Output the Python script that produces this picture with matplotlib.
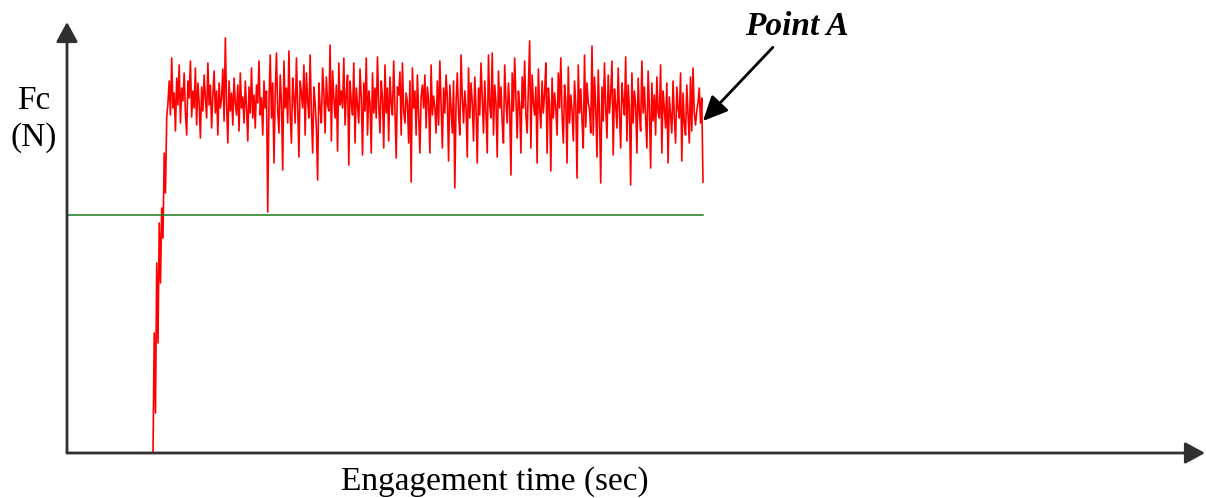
import numpy as np
import matplotlib
matplotlib.use("Agg")
import matplotlib.pyplot as plt

plt.rcParams['font.family'] = ['Liberation Serif', 'DejaVu Serif']

# cutting force trace (N), sampled uniformly from t_start to t_end
t_start = 0.86
t_end = 6.36
fc = [
    # run-up
    0, 120, 40, 190, 110, 230, 170, 245, 215, 300, 260, 336,
    # steady cutting
    350, 372, 338, 395, 345, 360, 322, 375, 348, 388,
    330, 365, 352, 380, 340, 318, 372, 355, 392, 336,
    362, 345, 385, 328, 370, 350, 315, 366, 342, 378,
    355, 335, 390, 348, 368, 325, 358, 382, 340, 362,
    318, 370, 345, 355, 384, 332, 415, 348, 310, 372,
    342, 360, 328, 375, 350, 338, 368, 322, 380, 345,
    356, 330, 372, 345, 312, 366, 340, 385, 335, 358,
    325, 368, 350, 392, 338, 355, 318, 372, 345, 362,
    241, 352, 398, 335, 370, 290, 360, 400, 342, 320,
    378, 350, 283, 392, 345, 365, 330, 402, 338, 310,
    375, 355, 330, 395, 348, 296, 372, 360, 345, 388,
    318, 380, 352, 335, 398, 340, 300, 366, 350, 325,
    273, 370, 345, 330, 385, 360, 320, 376, 348, 342,
    408, 312, 382, 355, 335, 368, 302, 390, 348, 362,
    345, 395, 328, 360, 378, 288, 372, 350, 338, 390,
    310, 365, 348, 330, 384, 355, 298, 370, 342, 395,
    318, 362, 350, 300, 380, 340, 365, 335, 396, 348,
    320, 372, 355, 305, 388, 340, 365, 312, 376, 350,
    338, 392, 345, 295, 366, 358, 381, 318, 390, 342,
    330, 360, 350, 310, 372, 271, 385, 345, 362, 318,
    378, 340, 300, 356, 368, 345, 378, 325, 366, 352,
    300, 388, 338, 357, 345, 320, 372, 328, 392, 350,
    305, 365, 340, 378, 355, 292, 368, 345, 320, 372,
    265, 350, 380, 340, 318, 398, 355, 330, 362, 345,
    296, 385, 335, 370, 350, 312, 376, 345, 290, 365,
    338, 390, 355, 320, 372, 340, 300, 398, 348, 335,
    400, 318, 368, 350, 296, 382, 345, 366, 330, 310,
    388, 352, 330, 370, 345, 278, 380, 342, 395, 355,
    315, 362, 348, 300, 376, 345, 392, 338, 320, 365,
    412, 305, 378, 350, 338, 366, 290, 384, 345, 325,
    372, 340, 360, 390, 300, 365, 348, 282, 375, 335,
    360, 345, 318, 380, 345, 395, 338, 310, 368, 352,
    290, 386, 330, 358, 342, 312, 372, 348, 275, 388,
    340, 364, 332, 305, 398, 326, 370, 350, 344, 320,
    407, 318, 376, 345, 296, 383, 338, 270, 366, 332,
    390, 345, 315, 378, 340, 360, 392, 298, 364, 348,
    325, 385, 340, 305, 370, 352, 338, 396, 312, 368,
    345, 268, 380, 330, 362, 348, 300, 375, 340, 322,
    392, 340, 366, 335, 305, 382, 345, 285, 370, 332,
    358, 318, 376, 340, 335, 388, 300, 362, 345, 325,
    370, 290, 356, 338, 320, 372, 335, 310, 366, 345,
    335, 380, 292, 360, 330, 318, 368, 340, 310, 376,
    322, 385, 340, 328, 342, 350, 365, 330, 355, 271,
]
threshold = 238
x_max = 11.38
y_max = 431

t = t_start + np.arange(len(fc)) * (t_end - t_start) / (len(fc) - 1)

fig = plt.figure(figsize=(12.06, 4.98), dpi=100)
ax = fig.add_axes([67 / 1206, 45 / 498, 1138 / 1206, 431 / 498])

ax.plot(t, fc, color='#ff0000', lw=1.2)
ax.plot([0, t_end], [threshold, threshold], color='#1a7a1a', lw=1.1)

ax.set_xlim(0, x_max)
ax.set_ylim(0, y_max)
ax.set_xticks([])
ax.set_yticks([])
for s in ax.spines.values():
    s.set_visible(False)

# axis arrows
arrow = dict(arrowstyle='-|>,head_length=0.55,head_width=0.3', color='#303030',
             lw=2, mutation_scale=22, shrinkA=0, shrinkB=0)
ax.annotate('', xy=(1, 0), xytext=(0, 0), xycoords='axes fraction',
            arrowprops=arrow, annotation_clip=False)
ax.annotate('', xy=(0, 1), xytext=(0, 0), xycoords='axes fraction',
            arrowprops=arrow, annotation_clip=False)

# Point A
ax.annotate('Point A', xy=(t[-1], 332), xytext=(7.30, 427),
            fontsize=24, fontweight='bold', style='italic',
            ha='center', va='center', annotation_clip=False,
            arrowprops=dict(arrowstyle='-|>,head_length=0.6,head_width=0.28',
                            color='black', lw=2, mutation_scale=25,
                            relpos=(0.32, 0), shrinkA=3, shrinkB=0))

fig.text(34 / 1206, 1 - 101 / 498, 'Fc', fontsize=24, ha='center', va='center')
fig.text(34 / 1206, 1 - 138 / 498, '(N)', fontsize=24, ha='center', va='center')
fig.text(495 / 1206, 1 - 482 / 498, 'Engagement time (sec)', fontsize=24,
         ha='center', va='center')

fig.savefig('out.png', dpi=100)
